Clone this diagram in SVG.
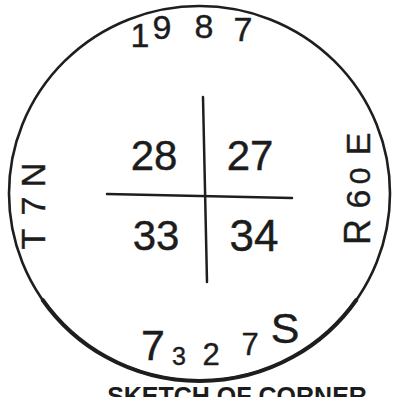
<svg xmlns="http://www.w3.org/2000/svg" width="393" height="397" viewBox="0 0 393 397">
<style>
.hw{font-family:"Liberation Sans","DejaVu Sans",sans-serif;fill:#1c1c1c;stroke:#1c1c1c;stroke-width:0.4;stroke-linejoin:round;text-anchor:middle}
.ln{stroke:#1e1e1e;fill:none;stroke-linecap:round}
</style>
<rect width="393" height="397" fill="#ffffff"/>
<g id="circle">
<ellipse cx="199.5" cy="193.5" rx="190.5" ry="187.5" class="ln" stroke-width="2.6"/>
<path d="M42.7,300 A190.5,187.5 0 0 0 356.3,300" class="ln" stroke-width="4"/>
</g>
<g id="connectors">
<line x1="203" y1="97" x2="207" y2="282" class="ln" stroke-width="2.5"/>
<line x1="107" y1="194" x2="292" y2="198" class="ln" stroke-width="2.5"/>
</g>
<g id="sec28"><text class="hw" x="154" y="170" font-size="42">28</text></g>
<g id="sec27"><text class="hw" x="250" y="170" font-size="42">27</text></g>
<g id="sec33"><text class="hw" x="156" y="250" font-size="42">33</text></g>
<g id="sec34"><text class="hw" x="254" y="251" font-size="44">34</text></g>
<g id="year"><text class="hw" font-size="34" x="140 162 204 243" y="47 39 38 41">1987</text></g>
<g id="number"><text class="hw"><tspan x="153" y="360" font-size="43">7</tspan><tspan x="179" y="365" font-size="25">3</tspan><tspan x="211" y="365" font-size="31">2</tspan><tspan x="250" y="355" font-size="31">7</tspan><tspan x="285" y="343" font-size="43">S</tspan></text></g>
<g id="township"><text class="hw" font-size="34" transform="translate(45,208) rotate(-90)" x="-31 2 33" y="0 0 0">T7N</text></g>
<g id="range"><text class="hw" transform="translate(370,190) rotate(-90)"><tspan x="-42" y="0" font-size="36">R</tspan><tspan x="-9" y="0" font-size="34">6</tspan><tspan x="14" y="0" font-size="30">0</tspan><tspan x="46" y="0" font-size="34">E</tspan></text></g>
<g id="caption"><text x="237" y="405" font-family="Liberation Sans, Arial, sans-serif" font-weight="bold" font-size="25" text-anchor="middle" fill="#1c1c1c">SKETCH OF CORNER</text></g>
</svg>
